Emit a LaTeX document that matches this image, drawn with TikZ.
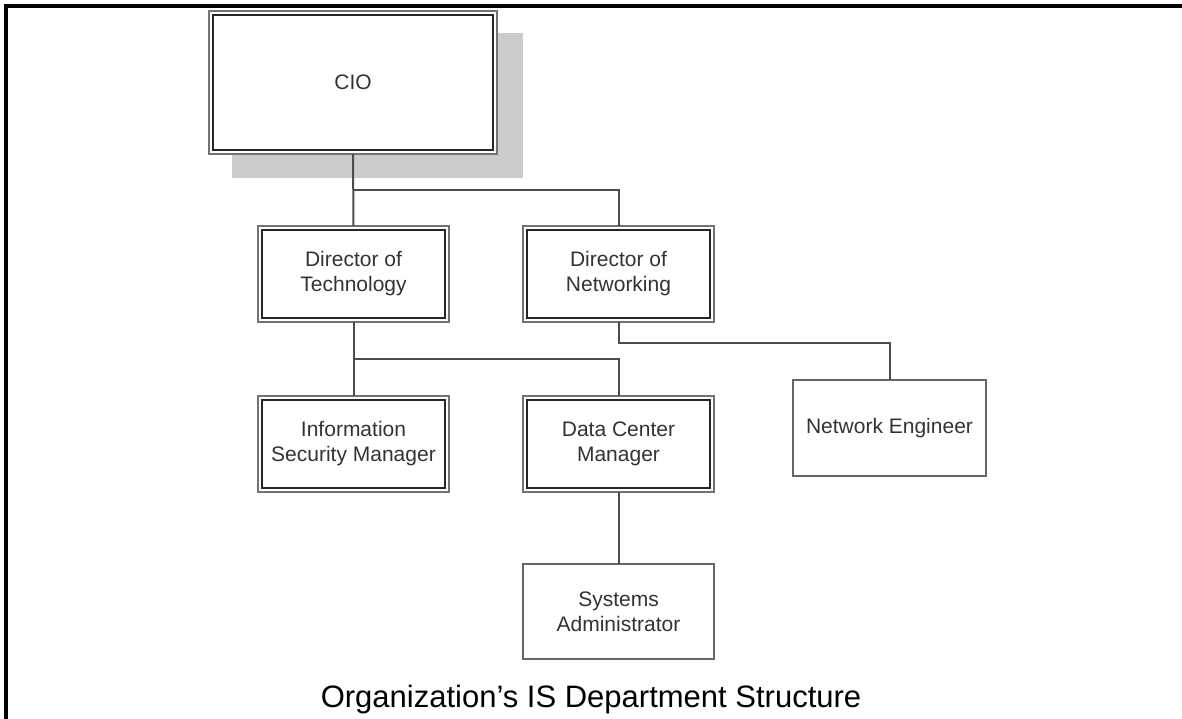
\documentclass[tikz,border=0pt]{standalone}
\usepackage{fontspec}
\setmainfont{Liberation Sans}
\begin{document}
\begin{tikzpicture}[x=1pt,y=-1pt,
  box/.style={draw=black!55, line width=2.4pt, fill=white, inner sep=0pt, outer sep=0pt,
    align=center, text=black!80, font=\fontsize{21}{25}\selectfont},
  single/.style={box, line width=2.2pt, draw=black!60},
  inner/.style={draw=black!85, line width=1.5pt},
  conn/.style={draw=black!70, line width=2pt},
  frame/.style={draw=black, line width=4pt}]
\useasboundingbox (0,0) rectangle (1182,719);
\fill[white] (0,0) rectangle (1182,719);
\draw[frame] (6,719) -- (6,6) -- (1182,6);
% shadow of CIO box
\fill[black!20] (232,33) rectangle (523,178);
% boxes
\node[box, minimum width=288pt, minimum height=143pt] (cio) at (353,82.5) {CIO};
\node[box, minimum width=191pt, minimum height=96pt] (tech) at (353.5,274) {Director of\\Technology};
\node[box, minimum width=191pt, minimum height=96pt] (net) at (618.5,274) {Director of\\Networking};
\node[box, minimum width=191pt, minimum height=96pt] (isec) at (353.5,444) {Information\\Security Manager};
\node[box, minimum width=191pt, minimum height=96pt] (dc) at (618.5,444) {Data Center\\Manager};
\node[single, minimum width=193pt, minimum height=96pt] (neteng) at (889.5,428) {Network Engineer};
\node[single, minimum width=191pt, minimum height=95pt] (sysadm) at (618.5,611.5) {Systems\\Administrator};
% inner lines of double borders
\foreach \n in {cio,tech,net,isec,dc}{
  \draw[inner] ([xshift=4pt,yshift=-4pt]\n.north west) rectangle ([xshift=-4pt,yshift=4pt]\n.south east);
}
% connectors
\coordinate (j1) at (353.5,190);
\coordinate (j2) at (353.5,359);
\coordinate (j3) at (618.5,343);
\draw[conn] (cio.south) -- (tech.north);
\draw[conn] (j1) -| (net.north);
\draw[conn] (tech.south) -- (isec.north);
\draw[conn] (j2) -| (dc.north);
\draw[conn] (net.south) -- (j3) -| (neteng.north);
\draw[conn] (dc.south) -- (sysadm.north);
% caption
\node[anchor=base, inner sep=0pt, font=\fontsize{31}{36}\selectfont] (cap) at (591,707) {Organization’s IS Department Structure};
\end{tikzpicture}
\end{document}
